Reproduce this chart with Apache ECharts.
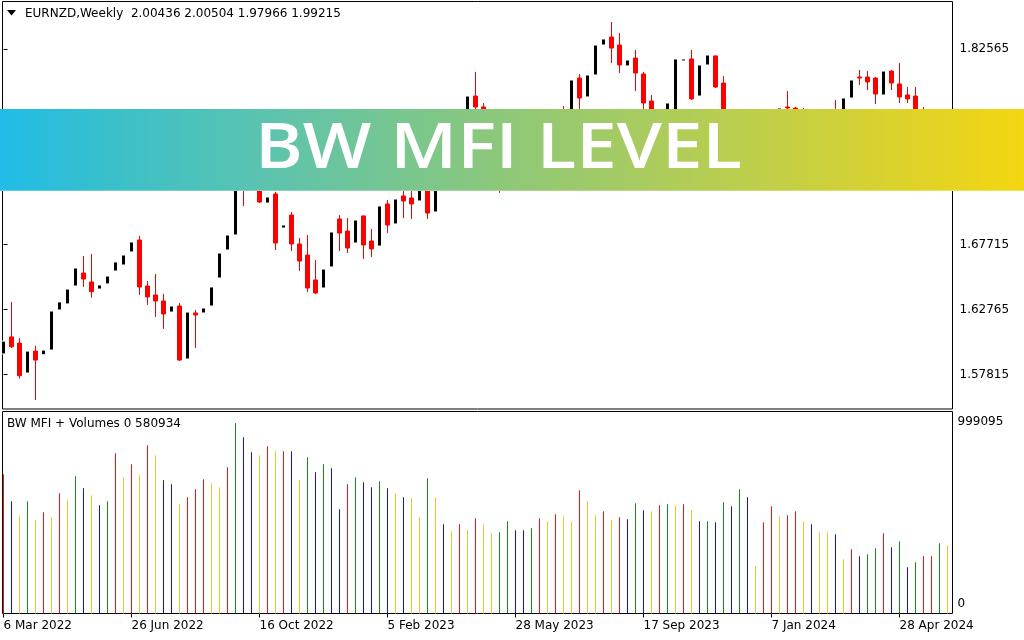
<!DOCTYPE html>
<html><head><meta charset="utf-8">
<script src="https://cdn.jsdelivr.net/npm/echarts@6/dist/echarts.min.js"></script>
<style>html,body{margin:0;padding:0;background:#fff}#c{width:1024px;height:640px}</style>
</head><body><div id="c"></div>
<script>
const symbolTitle = 'EURNZD,Weekly  2.00436 2.00504 1.97966 1.99215';
const indicatorTitle = 'BW MFI + Volumes 0 580934';
const bannerText = 'BW MFI LEVEL';
const priceTicks = [1.57815, 1.62765, 1.67715, 1.72665, 1.77615, 1.82565];
const volumeTicks = [0, 999095];
const dateTickIndex = [0, 16, 32, 48, 64, 80, 96, 112];
const dateTickLabels = ['6 Mar 2022', '26 Jun 2022', '16 Oct 2022', '5 Feb 2023', '28 May 2023', '17 Sep 2023', '7 Jan 2024', '28 Apr 2024'];

// weekly candles: [open, close, low, high]
const candles = [
[1.5939,1.6037,1.5931,1.6045],[1.6069,1.5994,1.5984,1.6335],[1.6022,1.5774,1.5751,1.6061],[1.5794,1.5961,1.5790,1.5965],
[1.5961,1.5893,1.5589,1.6002],[1.5933,1.5969,1.5930,1.5972],[1.5969,1.6266,1.5965,1.6270],[1.6274,1.6335,1.6270,1.6340],
[1.6320,1.6433,1.6316,1.6437],[1.6456,1.6593,1.6452,1.6597],[1.6555,1.6509,1.6449,1.6684],[1.6487,1.6413,1.6367,1.6700],
[1.6433,1.6464,1.6430,1.6467],[1.6472,1.6532,1.6468,1.6536],[1.6570,1.6639,1.6566,1.6643],[1.6616,1.6692,1.6612,1.6696],
[1.6715,1.6791,1.6711,1.6795],[1.6806,1.6449,1.6388,1.6837],[1.6456,1.6373,1.6312,1.6494],[1.6388,1.6342,1.6220,1.6547],
[1.6342,1.6243,1.6129,1.6396],[1.6258,1.6304,1.6254,1.6308],[1.6304,1.5893,1.5885,1.6327],[1.5901,1.6258,1.5897,1.6262],
[1.6251,1.6236,1.5984,1.6274],[1.6251,1.6289,1.6247,1.6293],[1.6304,1.6449,1.6300,1.6453],[1.6517,1.6707,1.6513,1.6711],
[1.6730,1.6844,1.6726,1.6848],[1.6844,1.7300,1.6837,1.7323],[1.7323,1.7202,1.7065,1.7380],[1.7217,1.7491,1.7202,1.7567],
[1.7491,1.7095,1.7087,1.7529],[1.7087,1.7133,1.7083,1.7137],[1.7156,1.6783,1.6730,1.7173],[1.6897,1.6920,1.6893,1.6924],
[1.6996,1.6776,1.6722,1.7019],[1.6776,1.6646,1.6570,1.6821],[1.6692,1.6441,1.6411,1.6844],[1.6502,1.6403,1.6396,1.6654],
[1.6441,1.6585,1.6437,1.6589],[1.6601,1.6867,1.6597,1.6871],[1.6966,1.6859,1.6722,1.6996],[1.6874,1.6745,1.6707,1.6973],
[1.6783,1.6958,1.6779,1.6962],[1.6989,1.6768,1.6662,1.6993],[1.6798,1.6738,1.6677,1.6890],[1.6760,1.7065,1.6756,1.7069],
[1.7080,1.6920,1.6859,1.7110],[1.6928,1.7118,1.6924,1.7122],[1.7141,1.7103,1.6973,1.7224],[1.7126,1.7080,1.6966,1.7224],
[1.7103,1.7300,1.7087,1.7339],[1.7278,1.7011,1.6966,1.7323],[1.7019,1.7415,1.7011,1.7453],[1.7415,1.7567,1.7377,1.7628],
[1.7551,1.7453,1.7399,1.7605],[1.7453,1.7719,1.7430,1.7757],[1.7719,1.7901,1.7681,1.7916],[1.7901,1.7818,1.7780,1.8084],
[1.7818,1.7643,1.7605,1.7848],[1.7643,1.7415,1.7339,1.7681],[1.7415,1.7262,1.7164,1.7491],[1.7262,1.7567,1.7224,1.7605],
[1.7567,1.7719,1.7529,1.7841],[1.7719,1.7567,1.7491,1.7757],[1.7567,1.7681,1.7529,1.7719],[1.7681,1.7757,1.7643,1.7795],
[1.7757,1.7643,1.7605,1.7780],[1.7643,1.7734,1.7605,1.7780],[1.7780,1.7681,1.7643,1.7825],[1.7734,1.8023,1.7681,1.8027],
[1.8038,1.7886,1.7757,1.8069],[1.7894,1.8061,1.7890,1.8065],[1.8061,1.8289,1.8057,1.8293],[1.8289,1.8335,1.8285,1.8339],
[1.8350,1.8266,1.8152,1.8464],[1.8289,1.8137,1.8076,1.8381],[1.8130,1.8175,1.8126,1.8179],[1.8190,1.8076,1.7939,1.8251],
[1.8069,1.7848,1.7757,1.8084],[1.7863,1.7643,1.7582,1.7909],[1.7643,1.7734,1.7605,1.7780],[1.7681,1.7848,1.7658,1.7856],
[1.7757,1.8183,1.7734,1.8187],[1.8168,1.8183,1.8164,1.8187],[1.8183,1.7879,1.7871,1.8251],[1.7901,1.8137,1.7897,1.8141],
[1.8137,1.8213,1.8133,1.8217],[1.8206,1.7970,1.7962,1.8210],[1.8000,1.7681,1.7643,1.8053],[1.7681,1.7491,1.7453,1.7719],
[1.7491,1.7605,1.7415,1.7643],[1.7605,1.7415,1.7339,1.7643],[1.7415,1.7300,1.7224,1.7476],[1.7300,1.7529,1.7262,1.7567],
[1.7529,1.7719,1.7491,1.7757],[1.7719,1.7810,1.7681,1.7814],[1.7818,1.7810,1.7757,1.7939],[1.7810,1.7757,1.7719,1.7818],
[1.7772,1.7643,1.7605,1.7810],[1.7643,1.7734,1.7582,1.7757],[1.7734,1.7605,1.7567,1.7780],[1.7605,1.7719,1.7567,1.7757],
[1.7780,1.7681,1.7643,1.7871],[1.7757,1.7886,1.7734,1.7890],[1.7886,1.8023,1.7882,1.8027],[1.8046,1.8038,1.7985,1.8099],
[1.8046,1.8008,1.7947,1.8091],[1.8038,1.7916,1.7841,1.8046],[1.7909,1.8091,1.7905,1.8095],[1.8091,1.8000,1.7947,1.8099],
[1.7993,1.7894,1.7848,1.8152],[1.7909,1.7879,1.7848,1.7970],[1.7901,1.7757,1.7719,1.7970],[1.7780,1.7681,1.7643,1.7818],
[1.7681,1.7757,1.7643,1.7795],[1.7757,1.7704,1.7658,1.7795],[1.7704,1.7780,1.7673,1.7802]
];

const volumes = [
689300,555700,481500,555700,461700,501300,476600,595300,560700,679400,
620000,585400,535900,555700,793200,674400,738800,684300,832700,783300,
659600,639800,540900,575500,615100,664500,644800,625000,723900,941600,
872300,798100,783300,827800,803100,803100,803100,659600,773400,699200,
738800,719000,516100,639800,674400,649700,625000,654700,620000,595300,
575500,570600,476600,669500,575500,441900,407300,441900,412300,471600,
441900,397400,402400,456800,412300,412300,422100,471600,456800,491400,
481500,456800,610100,555700,486500,506200,461700,476600,466700,545800,
511200,506200,535900,540900,535900,540900,511200,456800,456800,451800,
550800,531000,615100,575500,234200,451800,531000,481500,486500,506200,
456800,441900,402400,402400,392500,268800,318300,283600,293500,323200,
397400,328200,357800,229200,253900,283600,283600,347900,338000
];

// r = red, b = blue, y = yellow, g = green
const volumeColorKeys = [
'r','b','y','g','y','r','y','r','y','g','b','y','b','g','r','y','r','y','r','y',
'b','b','y','r','r','r','y','y','r','g','b','b','y','r','y','r','b','y','g','b',
'g','b','b','r','g','b','b','g','b','y','b','y','y','g','y','b','y','r','y','r',
'y','y','g','g','b','b','g','r','y','r','y','y','r','y','y','r','y','r','b','g',
'b','y','r','g','y','r','y','b','g','b','g','b','g','b','y','r','r','y','r','r',
'y','b','y','y','b','y','r','b','g','g','r','b','g','b','g','r','r','g','y'
];

const palette = { r: '#ee1111', b: '#1111ee', y: '#f5c523', g: '#138a13' };
const FONT = '"DejaVu Sans", Verdana, sans-serif';

const candleData = candles.map((c, i) => [i, c[0], c[1], c[2], c[3]]);
const volumeData = volumes.map((v, i) => ({ value: [i, v], itemStyle: { color: palette[volumeColorKeys[i]] } }));

const xMin = -0.125, xMax = 118.625;

// banner text horizontal fit
const mctx = document.createElement('canvas').getContext('2d');
const bannerFont = '600 63px "Open Sans"';
mctx.font = bannerFont;
const bannerScale = 487 / mctx.measureText(bannerText).width;

const chart = echarts.init(document.getElementById('c'), null, { renderer: 'canvas' });
chart.setOption({
  animation: false,
  backgroundColor: '#ffffff',
  grid: [
    { left: 2.5, top: 1.5, width: 950, height: 407.5, show: true, borderColor: '#000', borderWidth: 1, backgroundColor: 'transparent' },
    { left: 2.5, top: 411.5, width: 950, height: 202, show: true, borderColor: '#000', borderWidth: 1, backgroundColor: 'transparent' }
  ],
  xAxis: [
    { type: 'value', gridIndex: 0, min: xMin, max: xMax, show: false },
    { type: 'value', gridIndex: 1, min: xMin, max: xMax,
      axisLine: { show: false }, splitLine: { show: false },
      axisTick: { show: true, customValues: dateTickIndex, length: 4, lineStyle: { color: '#000' } },
      axisLabel: { customValues: dateTickIndex, align: 'left', margin: 6, color: '#000', fontFamily: FONT, fontSize: 12,
        formatter: v => dateTickLabels[dateTickIndex.indexOf(Math.round(v))] || '' } }
  ],
  yAxis: [
    { type: 'value', gridIndex: 0, position: 'right', min: 1.55206, max: 1.86201,
      axisLine: { show: false }, splitLine: { show: false },
      axisTick: { show: true, customValues: priceTicks, length: 4, lineStyle: { color: '#000' } },
      axisLabel: { customValues: priceTicks, margin: 7, color: '#000', fontFamily: FONT, fontSize: 12,
        formatter: v => v.toFixed(5) } },
    { type: 'value', gridIndex: 1, position: 'right', min: 0, max: 999095,
      axisLine: { show: false }, splitLine: { show: false }, axisTick: { show: false },
      axisLabel: { customValues: volumeTicks, margin: 5, color: '#000', fontFamily: FONT, fontSize: 12,
        formatter: v => v === 0 ? '{b|0}' : '{t|' + Math.round(v) + '}',
        rich: { t: { padding: [20, 0, 0, 0], fontFamily: FONT, fontSize: 12, color: '#000' },
                b: { padding: [0, 0, 19, 0], fontFamily: FONT, fontSize: 12, color: '#000' } } } }
  ],
  series: [
    { type: 'candlestick', xAxisIndex: 0, yAxisIndex: 0, data: candleData, barWidth: 4,
      itemStyle: { color: '#000000', color0: '#ff0000', borderColor: '#ffffff', borderColor0: '#ff0000', borderWidth: 1 },
      emphasis: { disabled: true }, silent: true },
    { type: 'bar', xAxisIndex: 1, yAxisIndex: 1, data: volumeData, barWidth: 1, silent: true, emphasis: { disabled: true } }
  ],
  graphic: [
    { type: 'polygon', shape: { points: [[7, 10], [16, 10], [11.5, 15.5]] }, style: { fill: '#000' }, z: 50 },
    { type: 'text', x: 25, y: 14, style: { text: symbolTitle, font: '12px ' + FONT, fill: '#000', textVerticalAlign: 'middle', verticalAlign: 'middle' }, z: 50 },
    { type: 'text', x: 7, y: 424, style: { text: indicatorTitle, font: '12px ' + FONT, fill: '#000', textVerticalAlign: 'middle', verticalAlign: 'middle' }, z: 50 },
    { type: 'rect', shape: { x: 0, y: 109, width: 1024, height: 82 }, z: 100,
      style: { fill: new echarts.graphic.LinearGradient(0, 0, 1, 0, [
        { offset: 0, color: '#20bce8' }, { offset: 0.117, color: '#3cc0c8' }, { offset: 0.234, color: '#56c3b4' },
        { offset: 0.49, color: '#8dc879' }, { offset: 0.76, color: '#c3cf46' }, { offset: 0.88, color: '#dcd22c' },
        { offset: 1, color: '#f4d611' }]) } },
    { type: 'rect', shape: { x: 0, y: 190, width: 1024, height: 1 }, z: 101, style: { fill: 'rgba(255,255,255,0.25)' } },
    { type: 'text', x: 498.5, y: 150, scaleX: bannerScale, z: 102,
      style: { text: bannerText, font: bannerFont, fill: '#ffffff', textAlign: 'center', align: 'center', textVerticalAlign: 'middle', verticalAlign: 'middle' } }
  ]
});
</script>
</body></html>
